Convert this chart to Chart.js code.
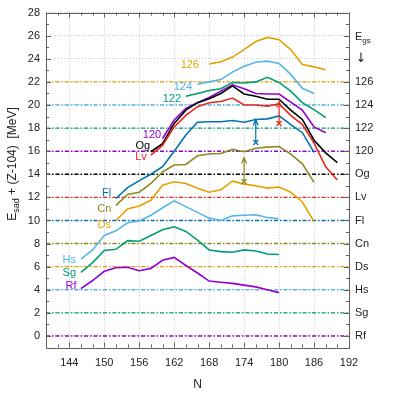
<!DOCTYPE html>
<html>
<head>
<meta charset="utf-8">
<script src="https://cdn.jsdelivr.net/npm/chart.js@4.4.1/dist/chart.umd.min.js"></script>
<style>
  html, body { margin: 0; padding: 0; background: #fff; }
  #wrap { width: 395px; height: 395px; }
</style>
</head>
<body>
<div id="wrap"><canvas id="chart" width="395" height="395"></canvas></div>
<script>
// ==================== データ ====================

// 曲線の名前と開始中性子数 (N は 2 刻み)
const curveNames = ['Rf', 'Sg', 'Hs', 'Ds', 'Cn', 'Fl', 'Lv', 'Og', '120', '122', '124', '126'];
const curveStartN = [146, 146, 146, 152, 152, 152, 158, 158, 160, 164, 166, 168];

// E_sad + (Z-104) [MeV]
const eRf = [4.1, 4.8, 5.6, 5.9, 5.95, 5.65, 5.85, 6.55, 6.8, 6.1, 5.45, 4.75, 4.65, 4.55, 4.4, 4.25, 4.0, 3.75];
const eSg = [5.5, 6.35, 7.4, 7.5, 8.25, 8.2, 8.7, 9.2, 9.45, 9.05, 8.3, 7.45, 7.3, 7.25, 7.45, 7.35, 7.1, 7.05];
const eHs = [6.65, 7.45, 8.7, 9.1, 9.8, 9.95, 10.45, 11.1, 11.7, 11.2, 10.7, 10.2, 10.0, 10.4, 10.45, 10.5, 10.25, 10.15];
const eDs = [10.0, 11.0, 11.25, 11.75, 13.05, 13.35, 13.2, 12.8, 12.45, 12.65, 13.4, 13.15, 13.0, 12.8, 12.9, 12.45, 11.6, 9.9];
const eCn = [11.3, 12.25, 12.45, 13.2, 14.2, 14.8, 14.85, 15.6, 15.75, 15.8, 16.15, 15.95, 16.25, 16.35, 16.4, 15.75, 14.9, 13.3];
const eFl = [11.9, 12.85, 13.45, 14.0, 14.65, 16.0, 17.4, 18.5, 18.55, 18.55, 18.65, 18.5, 18.75, 18.8, 19.05, 18.3, 17.6, 15.9];
const eLv = [15.65, 16.5, 18.1, 19.1, 19.85, 20.2, 20.3, 20.6, 20.0, 20.0, 19.9, 20.1, 19.1, 18.3, 16.7, 14.65, 13.5];
const eOg = [15.95, 16.65, 18.4, 19.55, 20.2, 20.55, 21.0, 21.65, 20.95, 20.75, 20.5, 20.5, 19.55, 18.75, 16.95, 15.85, 15.0];
const e120 = [17.1, 18.7, 19.7, 20.2, 20.65, 21.2, 21.75, 21.4, 21.0, 20.95, 20.95, 20.25, 19.55, 18.1, 17.6];
const e122 = [20.75, 21.0, 21.25, 21.4, 21.95, 21.9, 22.0, 22.4, 21.95, 21.2, 20.2, 19.6, 18.9];
const e124 = [21.8, 22.0, 22.2, 22.85, 23.35, 23.7, 23.8, 23.6, 22.65, 21.45, 21.0];
const e126 = [23.55, 23.75, 24.15, 24.8, 25.5, 25.85, 25.65, 24.8, 23.5, 23.3, 23.05];
const curveValues = [eRf, eSg, eHs, eDs, eCn, eFl, eLv, eOg, e120, e122, e124, e126];

// 基準線 (E_gs + (Z-104)), 曲線と同じ順
const refLevels = [0, 2, 4, 6, 8, 10, 12, 14, 16, 18, 20, 22];

// 曲線ラベルの位置 (N, E)
const labelN = [144.3, 144, 144, 150, 150, 150.4, 156.3, 156.6, 158.2, 161.6, 163.5, 164.7];
const labelE = [4.3, 5.45, 6.62, 9.6, 11.0, 12.34, 15.5, 16.45, 17.41, 20.48, 21.56, 23.44];

// 矢印
const arrowN = [174, 176, 180];
const arrowFrom = [13.35, 16.75, 18.4];
const arrowTo = [15.45, 18.75, 20.3];

// 軸目盛
const xTicks = [144, 150, 156, 162, 168, 174, 180, 186, 192];
const yTicks = [0, 2, 4, 6, 8, 10, 12, 14, 16, 18, 20, 22, 24, 26, 28];
const rightTickValues = [0, 2, 4, 6, 8, 10, 12, 14, 16, 18, 20, 22];
const rightTickLabels = ['Rf', 'Sg', 'Hs', 'Ds', 'Cn', 'Fl', 'Lv', 'Og', '120', '122', '124', '126'];

// ==================== スタイル ====================
const palette = {
  purple: '#9400d3',
  green: '#009e73',
  sky: '#56b4e9',
  orange: '#e69f00',
  olive: '#8c8c1e',
  blue: '#0072b2',
  red: '#e8281c',
  black: '#000000'
};
const curveColors = [
  palette.purple, palette.green, palette.sky, palette.orange, palette.olive, palette.blue,
  palette.red, palette.black, palette.purple, palette.green, palette.sky, palette.orange
];
const arrowColors = [palette.olive, palette.blue, palette.red];

const FONT = "'Liberation Sans', Arial, Helvetica, sans-serif";
Chart.defaults.font.family = FONT;
Chart.defaults.font.size = 11;
Chart.defaults.color = '#222';

// ==================== データセット ====================
const datasets = [];
curveValues.forEach((vals, i) => {
  datasets.push({
    label: curveNames[i],
    data: vals.map((v, k) => ({ x: curveStartN[i] + 2 * k, y: v })),
    borderColor: curveColors[i],
    borderWidth: 1.6,
    pointRadius: 0,
    tension: 0,
    order: 1
  });
});
refLevels.forEach((lvl, i) => {
  datasets.push({
    label: 'ref ' + curveNames[i],
    data: [{ x: 140, y: lvl }, { x: 192, y: lvl }],
    borderColor: curveColors[i],
    borderWidth: 1.4,
    borderDash: [4, 2, 1.5, 2],
    pointRadius: 0,
    order: 2
  });
});

// ==================== 装飾プラグイン ====================
const decorPlugin = {
  id: 'decor',
  afterDatasetsDraw(chart) {
    const { ctx, chartArea: a, scales: { x, y } } = chart;
    ctx.save();

    // 矢印
    arrowN.forEach((n, i) => {
      const px = x.getPixelForValue(n);
      const p0 = y.getPixelForValue(arrowFrom[i]);
      const p1 = y.getPixelForValue(arrowTo[i]);
      ctx.strokeStyle = arrowColors[i];
      ctx.lineWidth = 1.2;
      ctx.beginPath();
      ctx.moveTo(px, p0);
      ctx.lineTo(px, p1);
      ctx.moveTo(px - 2.5, p1 + 6);
      ctx.lineTo(px, p1);
      ctx.lineTo(px + 2.5, p1 + 6);
      ctx.moveTo(px - 2.5, p0 - 2.5);
      ctx.lineTo(px + 2.5, p0 + 2.5);
      ctx.moveTo(px + 2.5, p0 - 2.5);
      ctx.lineTo(px - 2.5, p0 + 2.5);
      ctx.stroke();
    });

    // 曲線ラベル
    ctx.font = '11px ' + FONT;
    ctx.textAlign = 'center';
    ctx.textBaseline = 'middle';
    curveNames.forEach((name, i) => {
      ctx.fillStyle = curveColors[i];
      ctx.fillText(name, x.getPixelForValue(labelN[i]), y.getPixelForValue(labelE[i]));
    });

    // 内向きの目盛
    ctx.strokeStyle = '#606060';
    ctx.lineWidth = 1;
    ctx.beginPath();
    for (let v = -1; v <= 28; v++) {
      const py = Math.round(y.getPixelForValue(v)) + 0.5;
      const len = v % 2 === 0 ? 5 : 3;
      ctx.moveTo(a.left, py); ctx.lineTo(a.left + len, py);
      ctx.moveTo(a.right, py); ctx.lineTo(a.right - len, py);
    }
    for (let n = 140; n <= 192; n += 2) {
      const px = Math.round(x.getPixelForValue(n)) + 0.5;
      const len = (n - 144) % 6 === 0 ? 5 : 3;
      ctx.moveTo(px, a.bottom); ctx.lineTo(px, a.bottom - len);
      ctx.moveTo(px, a.top); ctx.lineTo(px, a.top + len);
    }
    ctx.stroke();

    // 枠
    ctx.strokeRect(Math.round(a.left) + 0.5, Math.round(a.top) + 0.5,
      Math.round(a.right - a.left), Math.round(a.bottom - a.top));
    ctx.restore();
  },
  afterDraw(chart) {
    const { ctx, chartArea: a, scales: { y } } = chart;
    ctx.save();
    ctx.fillStyle = '#222';
    ctx.textBaseline = 'alphabetic';

    // 右側の E_gs と ↓
    const gy = y.getPixelForValue(26);
    ctx.textAlign = 'left';
    ctx.font = '11px ' + FONT;
    ctx.fillText('E', a.right + 6, gy + 4);
    const ew = ctx.measureText('E').width;
    ctx.font = '8px ' + FONT;
    ctx.fillText('gs', a.right + 6 + ew, gy + 7);
    ctx.font = "13px 'DejaVu Sans', sans-serif";
    ctx.textAlign = 'center';
    ctx.textBaseline = 'middle';
    ctx.fillText('↓', a.right + 12, y.getPixelForValue(24));

    // x 軸タイトル
    ctx.textBaseline = 'alphabetic';
    ctx.font = '12px ' + FONT;
    ctx.fillText('N', (a.left + a.right) / 2, 388);

    // y 軸タイトル
    ctx.translate(16, 164);
    ctx.rotate(-Math.PI / 2);
    const parts = [['E', 12, 0], ['sad', 9, 3], [' + (Z-104)  [MeV]', 12, 0]];
    let total = 0;
    parts.forEach(p => { ctx.font = p[1] + 'px ' + FONT; total += ctx.measureText(p[0]).width; });
    let cx = -total / 2;
    ctx.textAlign = 'left';
    parts.forEach(p => {
      ctx.font = p[1] + 'px ' + FONT;
      ctx.fillText(p[0], cx, p[2]);
      cx += ctx.measureText(p[0]).width;
    });
    ctx.restore();
  }
};

// ==================== グラフ作成 ====================
const ctx = document.getElementById('chart').getContext('2d');
new Chart(ctx, {
  type: 'line',
  data: { datasets },
  options: {
    responsive: false,
    animation: false,
    devicePixelRatio: 1,
    layout: { padding: { top: 12, left: 0, right: 0, bottom: 0 } },
    plugins: { legend: { display: false }, tooltip: { enabled: false } },
    scales: {
      x: {
        type: 'linear',
        min: 140,
        max: 192,
        afterBuildTicks: s => { s.ticks = xTicks.map(v => ({ value: v })); },
        afterFit: s => { s.height = 47.5; },
        ticks: { padding: 9, color: '#222', font: { size: 11 } },
        grid: { color: '#c8c8c8', lineWidth: 1, drawTicks: false },
        border: { display: false, dash: [1, 2] }
      },
      y: {
        min: -1,
        max: 28,
        afterBuildTicks: s => { s.ticks = yTicks.map(v => ({ value: v })); },
        afterFit: s => { s.width = 46; },
        ticks: { padding: 6, color: '#222', font: { size: 11 } },
        grid: { color: '#c8c8c8', lineWidth: 1, drawTicks: false },
        border: { display: false, dash: [1, 2] }
      },
      y2: {
        position: 'right',
        min: -1,
        max: 28,
        afterBuildTicks: s => { s.ticks = rightTickValues.map(v => ({ value: v })); },
        afterFit: s => { s.width = 46; },
        ticks: {
          padding: 6,
          color: '#222',
          font: { size: 11 },
          callback: v => rightTickLabels[rightTickValues.indexOf(v)]
        },
        grid: { display: false, drawTicks: false },
        border: { display: false }
      }
    }
  },
  plugins: [decorPlugin]
});
</script>
</body>
</html>
